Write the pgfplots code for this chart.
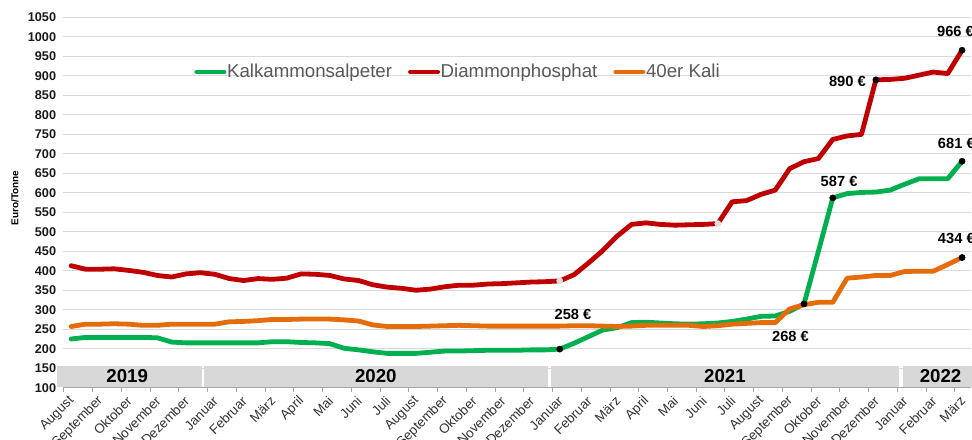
\documentclass[border=0pt]{standalone}
\usepackage{pgfplots}
\pgfplotsset{compat=1.18}
\usepackage{pgfplotstable}
\usepackage{fontspec}
\setmainfont{Liberation Sans}
\definecolor{cgreen}{RGB}{0,176,80}
\definecolor{cred}{RGB}{192,0,0}
\definecolor{corange}{RGB}{228,108,10}
\definecolor{cgrid}{RGB}{217,217,217}
\definecolor{cband}{RGB}{216,216,216}
\definecolor{ctext}{RGB}{89,89,89}

\pgfplotstableread{
x g r o
0.25 225 413 257
0.75 229 404 263
1.25 229 404 263
1.75 229 405 264
2.25 229 401 263
2.75 229 396 260
3.25 228 388 260
3.75 217 384 263
4.25 215 392 263
4.75 215 395 263
5.25 215 391 263
5.75 215 380 269
6.25 215 375 270
6.75 215 380 272
7.25 218 378 275
7.75 218 381 275
8.25 216 392 276
8.75 215 391 276
9.25 213 388 276
9.75 201 379 274
10.25 197 375 271
10.75 192 364 261
11.25 188 358 257
11.75 188 355 257
12.25 188 350 257
12.75 191 353 258
13.25 194 359 259
13.75 194 363 260
14.25 195 363 259
14.75 196 366 258
15.25 196 367 258
15.75 196 369 258
16.25 197 371 258
16.75 197 372 258
17.25 199 374 258
17.75 214 390 259
18.25 231 420 259
18.75 248 452 258
19.25 254 489 257
19.75 267 519 258
20.25 268 523 260
20.75 266 519 260
21.25 264 517 260
21.75 263 518 260
22.25 264 519 257
22.75 266 521 259
23.25 270 577 263
23.75 276 580 265
24.25 283 596 267
24.75 284 607 267
25.25 296 662 302
25.75 315 680 313
26.25 450 688 319
26.75 587 737 319
27.25 598 746 381
27.75 601 750 384
28.25 602 890 388
28.75 607 891 388
29.25 622 894 398
29.75 636 902 399
30.25 636 910 399
30.75 636 906 416
31.25 681 966 434
}\datatable

\pgfplotstableread{
x y
17.25 199
25.75 315
26.75 587
28.25 890
31.25 966
31.25 681
31.25 434
}\blackdots

\pgfplotstableread{
x y
17.25 374
22.75 521
}\graydots

\begin{document}
\begin{tikzpicture}
\begin{axis}[
  name=ax,
  scale only axis,
  width=680.6pt, height=277.65pt,
  xmin=-0.017, xmax=31.56,
  ymin=100, ymax=1050,
  clip=false,
  ytick={100,150,...,1050},
  xtick={0,...,31},
  xticklabels={August,September,Oktober,November,Dezember,Januar,Februar,März,April,Mai,Juni,Juli,August,September,Oktober,November,Dezember,Januar,Februar,März,April,Mai,Juni,Juli,August,September,Oktober,November,Dezember,Januar,Februar,März},
  ymajorgrids,
  grid style={cgrid, line width=0.75pt},
  axis x line*=bottom, axis y line*=left,
  y axis line style={draw=none},
  x axis line style={-, draw=gray!70, line width=0.75pt},
  ytick style={draw=none},
  xtick style={draw=gray!70, line width=0.75pt},
  xtick align=outside,
  major tick length=3pt,
  /pgf/number format/assume math mode=true,
  /pgf/number format/1000 sep={},
  yticklabel style={font=\bfseries\fontsize{9.5}{11}\selectfont, text=black!90, xshift=-2pt},
  xticklabel style={font=\fontsize{10}{12}\selectfont, text=black!80, xshift=8.5pt, yshift=-3pt, rotate=45, anchor=east},
  legend columns=-1,
  legend style={at={(rel axis cs:0.144,0.853)}, anchor=west, draw=none, fill=none,
    font=\fontsize{14}{16}\selectfont, text=ctext, inner sep=0pt,
    nodes={inner sep=0.5pt},
    /tikz/every even column/.append style={column sep=11.5pt}},
  legend image code/.code={\draw[#1, line width=3pt, line cap=round] (0pt,0pt) -- (21pt,0pt);},
]
% year bands
\fill[cband] (axis cs:-0.24,102) rectangle (axis cs:4.79,156);
\fill[cband] (axis cs:4.88,102) rectangle (axis cs:16.85,156);
\fill[cband] (axis cs:16.93,102) rectangle (axis cs:29.06,156);
\fill[cband] (axis cs:29.18,102) rectangle (axis cs:31.7,156);
\node[font=\bfseries\fontsize{14}{16}\selectfont] at (axis cs:2.2,130) {2019};
\node[font=\bfseries\fontsize{14}{16}\selectfont] at (axis cs:10.85,130) {2020};
\node[font=\bfseries\fontsize{14}{16}\selectfont] at (axis cs:23.0,130) {2021};
\node[font=\bfseries\fontsize{14}{16}\selectfont] at (axis cs:30.5,130) {2022};

\addplot[cgreen, line width=3.6pt, line join=round, line cap=round] table[x=x,y=g]{\datatable};
\addlegendentry{Kalkammonsalpeter}
\addplot[cred, line width=3.6pt, line join=round, line cap=round] table[x=x,y=r]{\datatable};
\addlegendentry{Diammonphosphat}
\addplot[corange, line width=3.6pt, line join=round, line cap=round] table[x=x,y=o]{\datatable};
\addlegendentry{40er Kali}

\addplot[forget plot, only marks, mark=*, mark size=2.3pt, mark options={fill=gray!25, draw=gray!25}] table[x=x,y=y]{\graydots};
\addplot[forget plot, only marks, mark=*, mark size=2.3pt, mark options={fill=black, draw=black}] table[x=x,y=y]{\blackdots};

\node[font=\bfseries\fontsize{11}{13}\selectfont] at (axis cs:17.71,287) {258 €};
\node[font=\bfseries\fontsize{11}{13}\selectfont] at (axis cs:25.28,230.5) {268 €};
\node[font=\bfseries\fontsize{11}{13}\selectfont] at (axis cs:26.97,629) {587 €};
\node[font=\bfseries\fontsize{11}{13}\selectfont] at (axis cs:27.26,887) {890 €};
\node[font=\bfseries\fontsize{11}{13}\selectfont] at (axis cs:31.02,1015) {966 €};
\node[font=\bfseries\fontsize{11}{13}\selectfont] at (axis cs:31.05,726) {681 €};
\node[font=\bfseries\fontsize{11}{13}\selectfont] at (axis cs:31.05,483) {434 €};

\node[rotate=90, font=\bfseries\fontsize{7.5}{9}\selectfont] at ([xshift=-36.5pt]rel axis cs:0,0.512) {Euro/Tonne};
\end{axis}
\pgfresetboundingbox
\useasboundingbox ([xshift=-47.6pt,yshift=-39.2pt]ax.south west) rectangle ([xshift=0.75pt,yshift=13.1pt]ax.north east);
\end{tikzpicture}
\end{document}
